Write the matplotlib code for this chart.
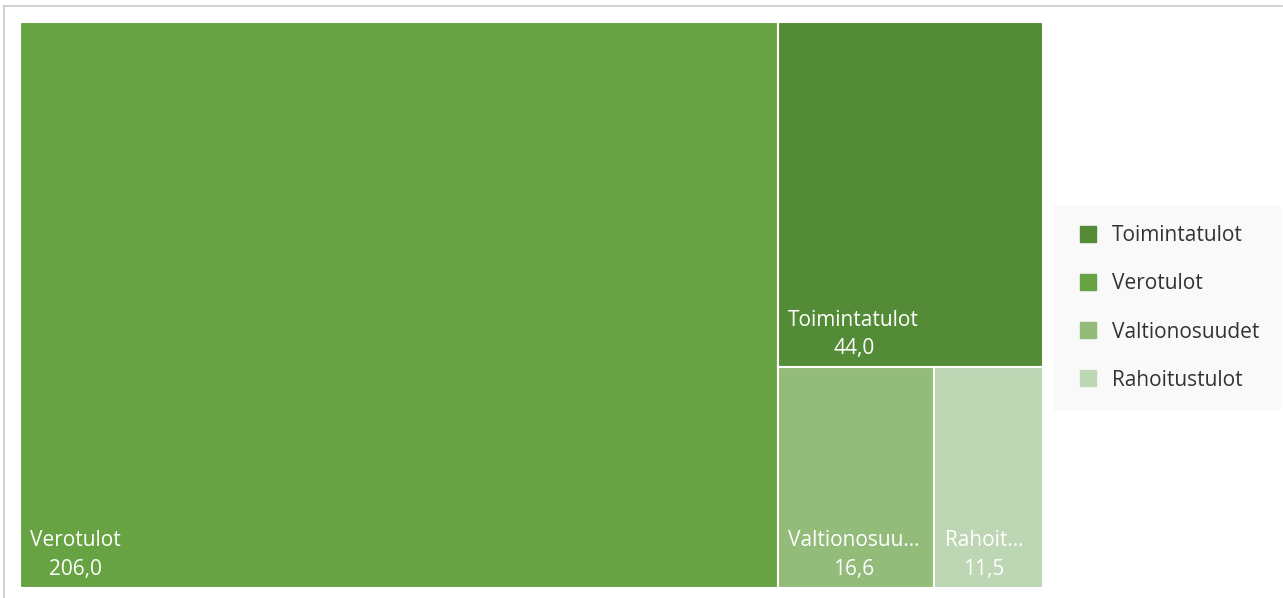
import matplotlib
matplotlib.use('Agg')
import matplotlib.pyplot as plt
from matplotlib.patches import Rectangle
from matplotlib.lines import Line2D

# data
names = ['Verotulot', 'Toimintatulot', 'Valtionosuudet', 'Rahoitustulot']
values = [206.0, 44.0, 16.6, 11.5]
shown = ['Verotulot', 'Toimintatulot', 'Valtionosuu…', 'Rahoit…']
colors = ['#68a343', '#548b37', '#93bb7a', '#bdd6b3']
legend_order = ['Toimintatulot', 'Verotulot', 'Valtionosuudet', 'Rahoitustulot']

plt.rcParams['font.family'] = ['Open Sans', 'DejaVu Sans']

W, H = 1283, 598
fig = plt.figure(figsize=(W / 100, H / 100), dpi=100)

# plot area in pixels: x 20..1043, y 22..588
ax = fig.add_axes([20 / W, 1 - 588 / H, 1023 / W, 566 / H])
ax.set_xlim(0, 1)
ax.set_ylim(1, 0)
ax.axis('off')


def layout(vals):
    """Simple slice layout: first item full height, rest split column then row."""
    total = sum(vals)
    w0 = vals[0] / total
    rects = [(0, 0, w0, 1)]
    rest = sum(vals[1:])
    h1 = vals[1] / rest
    rects.append((w0, 0, 1 - w0, h1))
    bottom = sum(vals[2:])
    x = w0
    for v in vals[2:]:
        w = (1 - w0) * v / bottom
        rects.append((x, h1, w, 1 - h1))
        x += w
    return rects


for (x, y, w, h), c, lab, v in zip(layout(values), colors, shown, values):
    ax.add_patch(Rectangle((x, y), w, h, facecolor=c, edgecolor='white', lw=1.5))
    name = ax.annotate(lab, (x, y + h), xytext=(7.5, 30), textcoords='offset points',
                       color='white', fontsize=15, ha='left', va='baseline')
    fig.canvas.draw()
    bb = name.get_window_extent()
    cx = (bb.x0 + bb.x1) / 2
    x0_disp = ax.transData.transform((x, y + h))[0]
    ax.annotate(f'{v:.1f}'.replace('.', ','), (x, y + h),
                xytext=((cx - x0_disp) * 72 / fig.dpi, 9.5), textcoords='offset points',
                color='white', fontsize=15, ha='center', va='baseline')

# legend
cmap = dict(zip(names, colors))
handles = [Line2D([], [], marker='s', ls='', markersize=12, color=cmap[n]) for n in legend_order]
leg = fig.legend(handles, legend_order, loc='center left',
                 bbox_to_anchor=(1054 / W, 1 - 308 / H), frameon=True,
                 facecolor='#f8f8f8', edgecolor='none', fontsize=15,
                 labelspacing=1.3, handlelength=1.3, handletextpad=0.5,
                 borderpad=1.0, borderaxespad=0, labelcolor='#333333')
leg.get_frame().set_boxstyle('square', pad=0)

# outer border
fig.add_artist(Line2D([4 / W, 1282 / W], [1 - 6 / H, 1 - 6 / H], color='#c8c8c8', lw=1.2))
fig.add_artist(Line2D([4 / W, 4 / W], [0, 1 - 6 / H], color='#c8c8c8', lw=1.2))

fig.savefig('out.png', dpi=100)
